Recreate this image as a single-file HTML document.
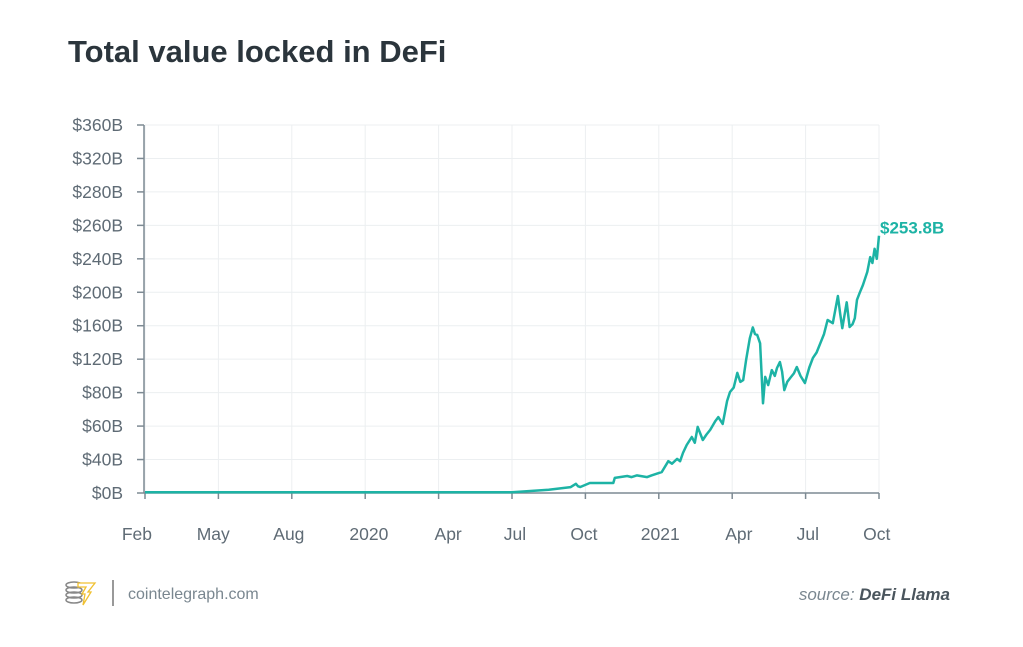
<!DOCTYPE html>
<html><head><meta charset="utf-8"><style>
body{margin:0;background:#fff;width:1023px;height:642px;overflow:hidden;font-family:"Liberation Sans",sans-serif}
</style></head><body>
<svg id="chart" width="1023" height="642" xmlns="http://www.w3.org/2000/svg">
<text x="68" y="62" font-size="31" font-weight="bold" fill="#2b353c">Total value locked in DeFi</text>
<g id="grid"></g>
<g id="axes"></g>
<path id="line" fill="none" stroke="#1db3a5" stroke-width="2.5" stroke-linejoin="round"/>
<text id="endLabel" font-size="17" font-weight="bold" fill="#1db3a5"></text>
<g>
<ellipse cx="74" cy="585" rx="8" ry="3" fill="none" stroke="#888" stroke-width="1.5"/>
<ellipse cx="74" cy="590" rx="8" ry="3" fill="none" stroke="#888" stroke-width="1.5"/>
<ellipse cx="74" cy="595" rx="8" ry="3" fill="none" stroke="#888" stroke-width="1.5"/>
<ellipse cx="74" cy="600" rx="8" ry="3" fill="none" stroke="#888" stroke-width="1.5"/>
<path d="M78 583 L95 583 L88 592 L91 592 L83 605 L85 594 L82 594 L86 587 L78 587 Z" fill="#fff" stroke="#f0c030" stroke-width="1.3"/>
</g>
<line x1="113" y1="580" x2="113" y2="606" stroke="#777" stroke-width="1.5"/>
<text x="128" y="599" font-size="16" fill="#7a8790">cointelegraph.com</text>
<text x="950" y="600" font-size="17" font-style="italic" text-anchor="end" fill="#7a8790">source: <tspan font-weight="bold" fill="#4a555d">DeFi Llama</tspan></text>
</svg>
<script>
const yTickValues=[0,40,60,80,120,160,200,240,260,280,320,360];
const yTickLabels=["$0B","$40B","$60B","$80B","$120B","$160B","$200B","$240B","$260B","$280B","$320B","$360B"];
const xTickLabels=["Feb","May","Aug","2020","Apr","Jul","Oct","2021","Apr","Jul","Oct"];
const xLabelAt=[-0.11,0.93,1.96,3.05,4.13,5.04,5.98,7.02,8.09,9.03,9.97];
const t=[0,5.0,5.5,5.8,5.87,5.9,5.93,6.06,6.38,6.40,6.57,6.63,6.7,6.84,6.9,7.04,7.13,7.18,7.25,7.29,7.33,7.38,7.45,7.49,7.53,7.60,7.65,7.70,7.77,7.81,7.87,7.93,7.97,8.02,8.07,8.11,8.15,8.19,8.24,8.28,8.31,8.34,8.38,8.42,8.45,8.49,8.54,8.58,8.61,8.65,8.68,8.71,8.75,8.79,8.84,8.88,8.93,8.99,9.05,9.10,9.15,9.20,9.25,9.30,9.37,9.44,9.47,9.50,9.56,9.60,9.64,9.67,9.70,9.74,9.78,9.84,9.88,9.91,9.94,9.97,10];
const tvl=[1,1,4,7,11,8,7.2,12,12,18,20.3,19,21,19,21,25,38,35,40.4,38,44,48.7,53.5,50,59.5,51.7,55,57.7,63,65.4,61.3,75,80.8,86,103.6,92.8,95,119,145,158,150,149,139,73.6,98.8,89,107,100,109.5,116.6,105,83,93,97.5,103,110.7,100,91.5,110,121.5,128,139,150,166.9,163,195.5,175,157,188,158.5,162,169,191,200,208.6,224.3,241,235,246,240,253.8];
const L=145,R=879,B=493,T=125;
const step=(B-T)/(yTickValues.length-1);
function yScale(v){
  for(let i=0;i<yTickValues.length-1;i++){
    if(v<=yTickValues[i+1]){const f=(v-yTickValues[i])/(yTickValues[i+1]-yTickValues[i]);return B-(i+f)*step;}
  }
  return T;
}
function xScale(u){return L+u*(R-L)/(xTickLabels.length-1);}
const ns="http://www.w3.org/2000/svg";
const grid=document.getElementById('grid'),axes=document.getElementById('axes');
function mk(tag,attrs,parent){const e=document.createElementNS(ns,tag);for(const k in attrs)e.setAttribute(k,attrs[k]);parent.appendChild(e);return e;}
yTickValues.forEach((v,i)=>{
  const y=B-i*step;
  const g=mk('line',{x1:L,x2:R,y1:y,y2:y,stroke:'#eceff1','stroke-width':1},grid);
  
  
  mk('line',{x1:137,x2:L-1,y1:y,y2:y,stroke:'#7d8a93','stroke-width':1.5},axes);
  const tx=mk('text',{x:123,y:y+6,'font-size':17.5,'text-anchor':'end',fill:'#5f6b75'},axes);
  tx.textContent=yTickLabels[i];
  
  
});
xTickLabels.forEach((s,i)=>{
  const x=xScale(i);
  const g=mk('line',{x1:x,x2:x,y1:T,y2:B,stroke:'#eceff1','stroke-width':1},grid);
  
  
  mk('line',{x1:x,x2:x,y1:B,y2:B+6,stroke:'#7d8a93','stroke-width':1.5},axes);
  const tx=mk('text',{x:xScale(xLabelAt[i]),y:540,'font-size':17.5,'text-anchor':'middle',fill:'#5f6b75'},axes);
  tx.textContent=s;
  
  
});
mk('line',{x1:L-1,x2:L-1,y1:T,y2:B,stroke:'#7d8a93','stroke-width':1.5},axes);
mk('line',{x1:L-1,x2:R,y1:B,y2:B,stroke:'#7d8a93','stroke-width':1.5},axes);
document.getElementById('line').setAttribute('d',t.map((u,i)=>(i?'L':'M')+xScale(u).toFixed(1)+' '+yScale(tvl[i]).toFixed(1)).join(' '));
const el=document.getElementById('endLabel');
el.setAttribute('x',xScale(t[t.length-1])+1);
el.setAttribute('y',yScale(tvl[tvl.length-1])-2);
el.textContent='$'+tvl[tvl.length-1].toFixed(1)+'B';
</script>
</body></html>
